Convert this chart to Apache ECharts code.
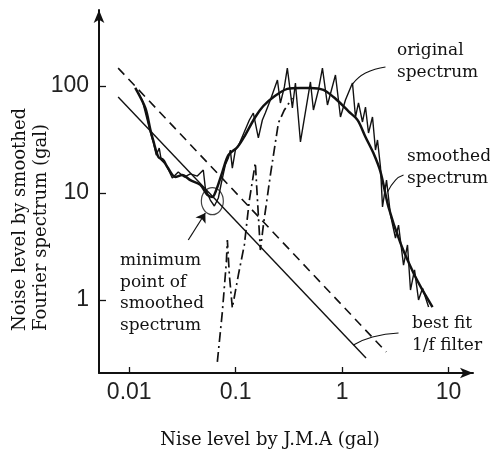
<!DOCTYPE html>
<html>
<head>
<meta charset="utf-8">
<script src="https://cdn.jsdelivr.net/npm/echarts@6/dist/echarts.min.js"></script>
<style>
  html, body { margin: 0; padding: 0; background: #fff; }
  #chart { width: 490px; height: 460px; }
</style>
</head>
<body>
<div id="chart"></div>
<script>
// values (log-log)
const xTicks = [0.01, 0.1, 1, 10];
const yTicks = [1, 10, 100];

const originalSpectrum = [
  [0.0114, 95.8], [0.01325, 74], [0.01477, 48.1], [0.01577, 37.2], [0.01682, 30],
  [0.01795, 22.6], [0.01915, 26.3], [0.02, 20.3], [0.02229, 18.3], [0.02539, 13.8],
  [0.0289, 15.7], [0.0329, 14.1], [0.0375, 15.1], [0.04362, 14.4], [0.04967, 16.4],
  [0.0519, 11.1], [0.0578, 8.6], [0.0631, 7.56], [0.0688, 8.98], [0.0734, 12.4],
  [0.08, 18.3], [0.0854, 21.2], [0.0891, 25.2], [0.0931, 17.1], [0.0994, 25.2],
  [0.106, 27.5], [0.1346, 48.1], [0.1467, 55.9], [0.1635, 32.7], [0.1783, 48.1],
  [0.19, 55.9], [0.212, 74], [0.247, 113.8], [0.2634, 69.4], [0.287, 97.9],
  [0.306, 147], [0.3414, 62.3], [0.3645, 106.7], [0.4064, 30], [0.5046, 109],
  [0.5382, 59.7], [0.6, 91.8], [0.654, 147], [0.729, 66.4], [0.867, 126.7],
  [0.966, 51.3], [1.076, 74], [1.253, 106.7], [1.337, 51.3], [1.427, 69.4],
  [1.556, 46.1], [1.66, 63.6], [1.772, 36.4], [1.932, 51.3], [2.061, 25.2],
  [2.153, 31.3], [2.296, 17.5], [2.399, 7.4], [2.617, 13.2], [2.853, 6.23],
  [3.177, 3.8], [3.394, 5.02], [3.781, 2.12], [4.121, 3.27], [4.396, 1.24],
  [4.797, 1.91], [5.233, 1.0], [5.703, 1.29], [6.502, 0.861]
];

const smoothedSpectrum = [
  [0.0114, 96], [0.0142, 62], [0.0158, 39], [0.0168, 31], [0.0188, 21.7],
  [0.0209, 20.3], [0.0228, 17.5], [0.0271, 14.1], [0.0315, 14.7], [0.0375, 13.2],
  [0.0466, 11.9], [0.0542, 9.6], [0.0604, 9.2], [0.0658, 10.7], [0.075, 15.7],
  [0.0854, 22.6], [0.104, 26.9], [0.123, 34.8], [0.153, 51.3], [0.182, 65],
  [0.227, 79], [0.306, 94], [0.406, 96], [0.505, 96], [0.668, 92], [0.83, 79],
  [0.966, 69], [1.15, 58], [1.4, 48], [1.66, 33.4], [1.97, 23.6], [2.3, 15.7],
  [2.73, 7.4], [3.54, 3.4], [4.69, 1.79], [5.83, 1.19], [7.08, 0.86]
];

const dashDotSpectrum = [
  [0.0673, 0.264], [0.075, 0.773], [0.0818, 2.26], [0.0836, 3.64], [0.0873, 1.71],
  [0.0931, 0.842], [0.106, 1.71], [0.1207, 3.27], [0.1346, 8.6], [0.1531, 19.1],
  [0.1707, 2.93], [0.1823, 5.02], [0.212, 14.7], [0.2522, 45.1], [0.287, 59.7],
  [0.3414, 77.3]
];

const fitLine = [[0.00787, 79], [1.68, 0.287]];
const fitLineUpper = [[0.00787, 147], [2.6, 0.327]];
const minimumPoint = [[0.0604, 8.4]];

// leader lines for the notes
const leaderOriginal = [[1.253, 104], [1.66, 132], [2.559, 150.5]];
const leaderSmoothed = [[2.673, 10.2], [3.177, 13.2], [3.781, 14.7]];
const leaderFit = [[1.279, 0.38], [1.932, 0.451], [3.394, 0.492]];
const minimumArrow = [[0.0359, 3.64], [0.0519, 6.5]];

const ink = '#111';
const serif = '"DejaVu Serif", serif';

const chart = echarts.init(document.getElementById('chart'));

function leader(data) {
  return {
    type: 'line', data: data, smooth: true, showSymbol: false, silent: true,
    lineStyle: { color: ink, width: 1.1 }
  };
}

function note(x, y, text) {
  return {
    type: 'text', x: x, y: y, silent: true,
    style: { text: text, font: '17px ' + serif, fill: ink, lineHeight: 21.5, textVerticalAlign: 'top' }
  };
}

chart.setOption({
  animation: false,
  backgroundColor: '#fff',
  grid: { left: 99, right: 17, top: 10, bottom: 87, outerBoundsMode: 'none' },
  xAxis: {
    type: 'log', min: 0.0052, max: 17,
    axisLine: { lineStyle: { color: ink, width: 2 }, symbol: ['none', 'arrow'], symbolSize: [8, 13] },
    axisTick: { inside: true, length: 6, customValues: xTicks, lineStyle: { color: ink, width: 1.3 } },
    axisLabel: {
      customValues: xTicks, margin: 8, color: '#222', fontSize: 23, fontFamily: '"Liberation Sans", sans-serif',
      formatter: v => String(+v.toPrecision(3))
    },
    splitLine: { show: false }
  },
  yAxis: {
    type: 'log', min: 0.208, max: 513,
    axisLine: { lineStyle: { color: ink, width: 2 }, symbol: ['none', 'arrow'], symbolSize: [8, 13] },
    axisTick: { inside: true, length: 7, customValues: yTicks, lineStyle: { color: ink, width: 1.3 } },
    axisLabel: {
      customValues: yTicks, margin: 10, color: '#222', fontSize: 23, fontFamily: '"Liberation Sans", sans-serif',
      formatter: v => String(+v.toPrecision(3))
    },
    splitLine: { show: false }
  },
  series: [
    {
      name: 'original spectrum', type: 'line', data: originalSpectrum, showSymbol: false,
      lineStyle: { color: ink, width: 1.4 }
    },
    {
      name: 'smoothed spectrum', type: 'line', data: smoothedSpectrum, showSymbol: false, smooth: 0.3,
      lineStyle: { color: ink, width: 2.5 }
    },
    {
      name: 'dash-dot', type: 'line', data: dashDotSpectrum, showSymbol: false,
      lineStyle: { color: ink, width: 1.7, type: [10, 4, 2, 4] }
    },
    {
      name: 'best fit 1/f filter', type: 'line', data: fitLine, showSymbol: false,
      lineStyle: { color: ink, width: 1.4 }
    },
    {
      name: 'upper', type: 'line', data: fitLineUpper, showSymbol: false,
      lineStyle: { color: ink, width: 1.6, type: [9, 6] }
    },
    {
      name: 'minimum', type: 'scatter', data: minimumPoint, symbol: 'circle', symbolSize: [22, 27],
      itemStyle: { color: 'rgba(0,0,0,0)', borderColor: ink, borderWidth: 1.3 },
      markLine: {
        silent: true, symbol: ['none', 'arrow'], symbolSize: 9, label: { show: false },
        lineStyle: { color: ink, width: 1.2, type: 'solid' },
        data: [[{ coord: minimumArrow[0] }, { coord: minimumArrow[1] }]]
      }
    },
    leader(leaderOriginal),
    leader(leaderSmoothed),
    leader(leaderFit)
  ],
  graphic: [
    note(397, 40, 'original\nspectrum'),
    note(407, 146, 'smoothed\nspectrum'),
    note(120, 250, 'minimum\npoint of\nsmoothed\nspectrum'),
    note(412, 313, 'best fit\n1/f filter'),
    {
      type: 'text', x: 270, y: 430, silent: true,
      style: { text: 'Nise level by J.M.A (gal)', font: '18px ' + serif, fill: ink, textAlign: 'center', textVerticalAlign: 'top', lineHeight: 20 }
    },
    {
      type: 'text', x: 10, y: 331, rotation: Math.PI / 2, silent: true,
      style: {
        text: 'Noise level by smoothed\nFourier spectrum (gal)', font: '18px ' + serif, fill: ink,
        textAlign: 'left', textVerticalAlign: 'top', lineHeight: 21
      }
    }
  ]
});
</script>
</body>
</html>
